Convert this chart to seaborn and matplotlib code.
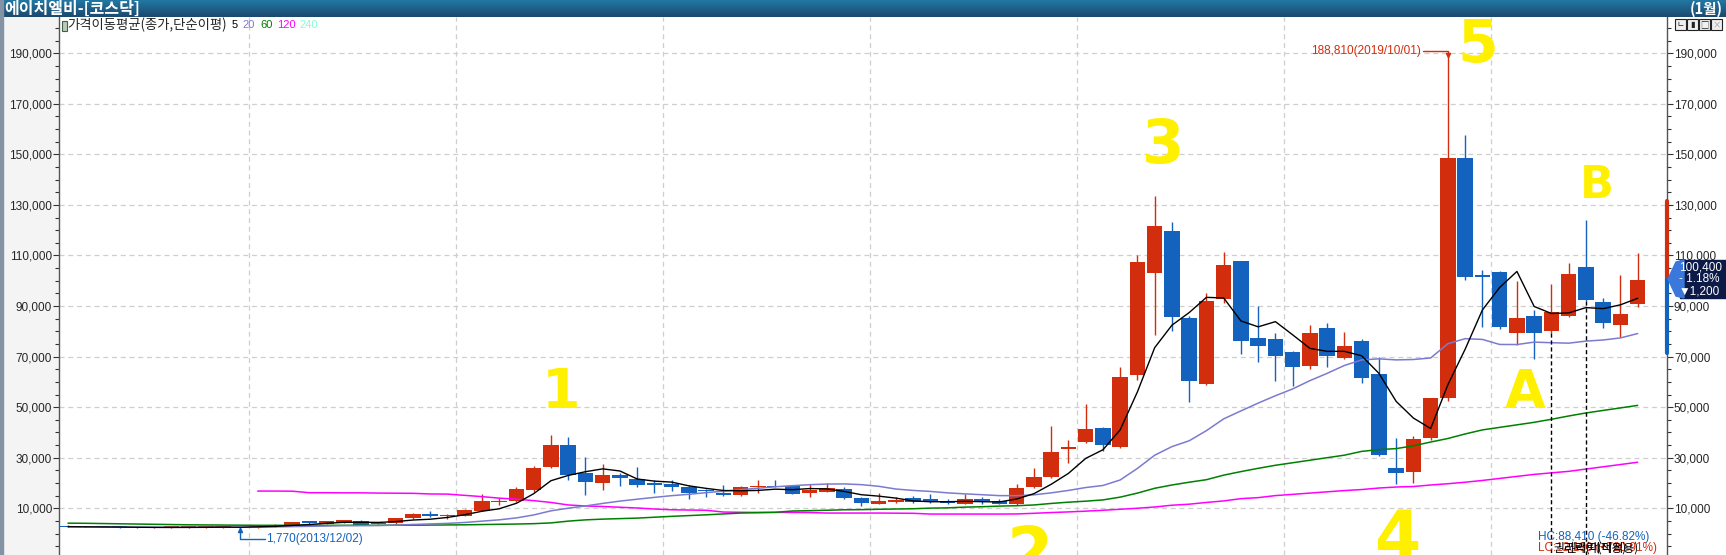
import numpy as np
import pandas as pd
import matplotlib
matplotlib.use("Agg")
import matplotlib.pyplot as plt
from matplotlib.colors import LinearSegmentedColormap
from matplotlib.patches import Rectangle, Polygon
from matplotlib.ticker import MultipleLocator, FuncFormatter
import seaborn as sns

# === DATA: monthly candles 2013/02 .. 2020/09 ===
opens = [3100, 2800, 2650, 2600, 2450, 2250, 2350, 2450, 2400, 2450,
         2600, 2400, 2600, 3100, 4450, 3900, 4200, 5000, 3800, 4000,
         6000, 7900, 6950, 7050, 9100, 12600, 12800, 17300, 26300, 35100,
         24100, 19850, 23300, 21700, 20100, 19700, 18550, 17100, 16150, 15100,
         18250, 18900, 18650, 15900, 16550, 17750, 14150, 11800, 12600, 14150,
         13800, 12850, 11800, 13800, 13000, 11800, 18500, 22450, 33250, 36400,
         41800, 34150, 62900, 103250, 119700, 85300, 59200, 92950, 107850, 77400,
         77000, 71850, 66450, 81400, 69600, 76200, 63100, 25800, 24350, 37600,
         53750, 148450, 102400, 103600, 79150, 85900, 80050, 86050, 105350, 91450,
         82700, 90650]
highs = [3300, 3000, 2800, 2700, 2600, 2550, 2650, 2700, 2700, 2750,
         2700, 3450, 3700, 4600, 5000, 5000, 5400, 5450, 4400, 6300,
         8300, 9100, 7800, 9700, 15500, 13900, 18400, 26800, 39100, 38300,
         30400, 27600, 23950, 26300, 21300, 21300, 19200, 17600, 19300, 19000,
         21300, 21300, 19300, 19700, 20100, 18500, 14300, 16000, 14400, 14700,
         15750, 13600, 15700, 14400, 13600, 19700, 26000, 42650, 37100, 51300,
         42000, 65800, 110100, 133550, 123300, 86100, 95050, 111400, 108000, 90050,
         79350, 72250, 82550, 83350, 79800, 77000, 69750, 37850, 38500, 53700,
         188810, 157600, 104400, 103700, 99800, 88300, 98600, 107100, 124050, 93050,
         102200, 111050]
lows = [2600, 2500, 2400, 2300, 2150, 2150, 2250, 2350, 2300, 2350,
        1770, 2300, 2500, 3000, 3800, 3700, 4000, 3400, 3600, 3800,
        5800, 6600, 5600, 6900, 8900, 11300, 12400, 16400, 25800, 21000,
        15400, 17100, 18650, 18250, 15900, 16950, 13650, 14300, 15000, 15000,
        15900, 18300, 15700, 14400, 16300, 13800, 11000, 11700, 12200, 12200,
        12200, 11800, 11700, 11800, 11700, 11300, 18100, 22000, 28100, 36000,
        32800, 33800, 60800, 78700, 80300, 52200, 58800, 91400, 71050, 68050,
        60150, 58450, 65100, 66050, 69000, 59400, 30500, 19750, 20000, 37000,
        52500, 100150, 81650, 81000, 74750, 68950, 79500, 85500, 91900, 81400,
        77950, 89450]
closes = [2700, 2600, 2500, 2400, 2250, 2400, 2500, 2550, 2550, 2600,
          2250, 3300, 3450, 4400, 4350, 4800, 5200, 3500, 4100, 6000,
          7900, 6800, 7050, 9400, 12900, 12800, 17700, 26000, 35100, 23300,
          20200, 23300, 21800, 19300, 19050, 18250, 15900, 16800, 15100, 18550,
          18900, 18400, 15800, 17300, 17850, 13900, 11900, 13000, 13400, 12300,
          12300, 11900, 13800, 12700, 11800, 18100, 22450, 32350, 34300, 41400,
          35200, 61950, 107450, 121700, 85850, 60150, 92050, 106250, 76200, 74250,
          70400, 65950, 79400, 70400, 74250, 61650, 31100, 23950, 37450, 53600,
          148450, 101350, 101500, 81900, 85250, 79150, 87500, 102600, 92400, 83250,
          86700, 100400]

ma60 = [4100, 4050, 3950, 3850, 3750, 3650, 3550, 3450, 3400, 3350, 3300,
        3250, 3250, 3250, 3250, 3250, 3250, 3250, 3250, 3300, 3300, 3350, 3400,
        3450, 3550, 3650, 3750, 3900, 4200, 4900, 5400,
        5700, 5900, 6100, 6450, 6800, 7100, 7400, 7750, 8100, 8250, 8400,
        8900, 9050, 9200, 9400, 9450, 9600, 9700, 9800, 10050, 10150, 10450, 10600, 10850,
        11000, 11300, 11900, 12400, 12800, 13300, 14400, 16000, 17900, 19200, 20300, 21300,
        23100, 24500, 25800, 27000, 28000, 29000, 30000, 31000, 32500, 33200, 33600, 34700, 36200,
        37600, 39400, 41000, 42000, 43000, 44000, 45200, 46500, 47700, 48700, 49700, 50700]
ma120_start = 11
ma120 = [16800, 16800, 16750, 16150, 16150, 16100, 16100, 16000, 15950, 15900, 15650, 15600,
         15100, 14600, 14000, 13600, 13000, 12300, 11300, 10900, 10700, 10400, 10100,
         9700, 9400, 9300, 9200, 8500, 8400, 8350, 8350, 8350, 8300, 8100, 8100,
         8100, 8100, 8050, 8000, 7700, 7700, 7700, 7700, 7700, 7750, 8000, 8300,
         8550, 8850, 9200, 9600, 10000, 10500, 11200, 11600, 12300, 12900, 13800, 14200,
         15000, 15500, 16000, 16500, 17000, 17400, 18000, 18400, 18600, 19200, 19700, 20300,
         21000, 21800, 22600, 23400, 24000, 24600, 25500, 26400, 27300, 28200]

year_breaks = [10.5, 22.5, 34.5, 46.5, 58.5, 70.5, 82.5]
rights_idx = [86, 88]           # 권리락 marks
peak_idx, peak_val = 80, 188810
low_idx, low_val = 10, 1770
last_price, last_pct, last_chg = 100400, -1.18, 1200
range_top, range_bottom = 131500, 71500

# === DataFrame ===
df = pd.DataFrame({"open": opens, "high": highs, "low": lows, "close": closes})
df["x"] = np.arange(len(df))
df["ma5"] = df["close"].rolling(5, min_periods=1).mean()
df["ma20"] = df["close"].rolling(20, min_periods=1).mean()
df["ma60"] = ma60
df["ma120"] = np.nan
df.loc[ma120_start:, "ma120"] = ma120

RED, BLUE = "#d22d0c", "#1262be"
NUM_FONT = ["Liberation Sans", "DejaVu Sans"]

# === Plotting Setup ===
sns.set_style("white")
plt.rcParams["font.family"] = ["Noto Sans CJK KR", "DejaVu Sans"]

W, H = 1726, 555
fig = plt.figure(figsize=(W / 100, H / 100), dpi=100)
fig.patch.set_facecolor("white")


def fx(px):
    return px / W


def fy(py):
    return 1 - py / H


# left label panel
fig.add_artist(Rectangle((0, 0), fx(59), 1, transform=fig.transFigure, color="#f4f4f4", zorder=0))
fig.add_artist(Rectangle((0, 0), fx(3), 1, transform=fig.transFigure, color="#8493a3", zorder=1))

ax = fig.add_axes([fx(59), 0, 1608 / W, 538 / H])
ax.set_facecolor("white")

# --- candles ---
up = df["close"] >= df["open"]
cols = np.where(up, RED, BLUE)
body_b = df[["open", "close"]].min(axis=1)
body_h = np.maximum((df["close"] - df["open"]).abs(), 450)
ax.vlines(df["x"], df["low"], df["high"], colors=cols, linewidth=1.0, zorder=3)
ax.bar(df["x"], body_h, bottom=body_b, width=0.9, color=cols, linewidth=0, zorder=4)

# --- moving averages ---
sns.lineplot(x=df["x"], y=df["ma120"], color="#ff00ff", linewidth=1.1, ax=ax, zorder=5)
sns.lineplot(x=df["x"], y=df["ma60"], color="#008000", linewidth=1.1, ax=ax, zorder=5)
sns.lineplot(x=df["x"], y=df["ma20"], color="#7b7bcf", linewidth=1.1, ax=ax, zorder=5)
sns.lineplot(x=df["x"], y=df["ma5"], color="black", linewidth=1.0, ax=ax, zorder=6)

# --- rights marks ---
ax.vlines(rights_idx, df.loc[rights_idx, "low"], -9000, colors="black",
          linestyles=(0, (3, 2)), linewidth=1.0, zorder=6)

# --- axes ---
ax.set_xlim(-0.52, 92.70)
ax.set_ylim(-8497, 204362)
ax.set_xlabel("")
ax.set_ylabel("")
ax.set_xticks(year_breaks)
ax.set_yticks(range(10000, 190001, 20000))
ax.yaxis.set_minor_locator(MultipleLocator(5000))
ax.yaxis.set_major_formatter(FuncFormatter(lambda v, p: f"{int(v):,}"))
ax.grid(True, which="major", color="#cfcfcf", linestyle=(0, (4, 3)), linewidth=0.9)
ax.set_axisbelow(True)
ax.tick_params(axis="x", length=0, labelbottom=False)
ax.tick_params(axis="y", which="both", direction="out", left=True, right=True,
               labelleft=True, labelright=True, labelsize=8.5, pad=1,
               color="#333333", labelfontfamily="Liberation Sans")
ax.tick_params(axis="y", which="major", length=4, width=0.8)
ax.tick_params(axis="y", which="minor", length=3, width=0.8)
for side in ["top", "bottom"]:
    ax.spines[side].set_visible(False)
for side in ["left", "right"]:
    ax.spines[side].set_color("#555555")
    ax.spines[side].set_linewidth(1.0)

# price range strip on the right axis
ax.plot([1.0, 1.0], [range_top, last_price], color=RED, linewidth=3,
        transform=ax.get_yaxis_transform(), clip_on=False, zorder=7)
ax.plot([1.0, 1.0], [last_price, range_bottom], color=BLUE, linewidth=3,
        transform=ax.get_yaxis_transform(), clip_on=False, zorder=7)

# --- high / low annotations ---
ax.text(78.45, 191000, f"{peak_val:,}(2019/10/01)", color=RED, fontsize=8.5,
        ha="right", va="center", family=NUM_FONT)
ax.plot([78.55, peak_idx, peak_idx], [191000, 191000, peak_val + 600], color=RED, linewidth=1.0, zorder=7)
ax.plot([peak_idx], [peak_val + 500], marker="v", markersize=3, color=RED, zorder=7)

ax.plot([low_idx, low_idx, 11.4], [low_val - 300, -2200, -2200], color=BLUE, linewidth=1.0, zorder=7)
ax.plot([low_idx], [low_val - 500], marker="^", markersize=3, color=BLUE, zorder=7)
ax.text(11.5, -2200, f"{low_val:,}(2013/12/02)", color=BLUE, fontsize=8.5,
        ha="left", va="center", family=NUM_FONT)

# --- title bar ---
tax = fig.add_axes([0, fy(17), 1, 17 / H])
grad = LinearSegmentedColormap.from_list("bar", ["#2177a2", "#1c4a6f"])
tax.imshow(np.linspace(0, 1, 20).reshape(-1, 1), aspect="auto", cmap=grad, extent=[0, 1, 0, 1])
tax.axis("off")
fig.text(fx(4), fy(8.5), "에이치엘비-[코스닥]", color="white", fontsize=11.5,
         fontweight="bold", va="center", ha="left")
fig.text(fx(1723), fy(8.5), "(1월)", color="white", fontsize=10.5,
         fontweight="bold", va="center", ha="right")

# window buttons
for i, g in enumerate(["ㄴ", "▮", "□", "×"]):
    bx = 1675 + i * 12
    fig.add_artist(Rectangle((fx(bx), fy(30)), fx(11), 11 / H, transform=fig.transFigure,
                             facecolor="#efefef", edgecolor="#222222", linewidth=0.8, zorder=8))
    fig.text(fx(bx + 5.5), fy(24.5), g, fontsize=6, ha="center", va="center",
             color="#222222" if i < 3 else "#999999", zorder=9)

# --- legend line ---
fig.add_artist(Rectangle((fx(62), fy(31)), fx(5), 10 / H, transform=fig.transFigure,
                         facecolor="#b8ccb8", edgecolor="#40604a", linewidth=0.8, zorder=8))
fig.text(fx(67), fy(25), "가격이동평균(종가,단순이평)", fontsize=9.6, va="center", ha="left")
for lab, px, c in [("5", 232, "black"), ("20", 242, "#7b7bcf"), ("60", 260, "#008000"),
                   ("120", 277, "#ff00ff"), ("240", 299, "#7fffd4")]:
    fig.text(fx(px), fy(25), lab, fontsize=8, va="center", ha="left", color=c, family=NUM_FONT)

# --- price tag ---
fig.add_artist(Rectangle((fx(1680), fy(298)), fx(46), 38 / H, transform=fig.transFigure,
                         color="#0c1a48", zorder=8))
fig.add_artist(Polygon([(fx(1668), fy(279)), (fx(1676), fy(262)), (fx(1684), fy(260)),
                        (fx(1684), fy(298)), (fx(1676), fy(296))], closed=True,
                       transform=fig.transFigure, color="#3a78dc", zorder=9))
for txt, py in [(f"{last_price:,}", 267), (f"- {abs(last_pct):.2f}%", 279), (f"▼{last_chg:,}", 291)]:
    fig.text(fx(1679), fy(py), txt, color="white", fontsize=8.5, va="center", ha="left",
             family=NUM_FONT, zorder=10)

# --- bottom-right info ---
fig.text(fx(1538), fy(537), "HC:88,410 (-46.82%)", color=BLUE, fontsize=8.5, va="center",
         ha="left", family=NUM_FONT)
fig.text(fx(1538), fy(548), "LC:12,130 (+720.91%)", color=RED, fontsize=8.5, va="center",
         ha="left", family=NUM_FONT)
for px in [1553, 1565]:
    fig.text(fx(px), fy(548), "권리락(미적용)", color="black", fontsize=8.5, va="center", ha="left")

# --- hand-written yellow marks ---
for lab, px, py, fs in [("1", 561, 393, 40), ("2", 1030, 556, 48), ("3", 1163, 146, 44),
                        ("4", 1397, 540, 48), ("5", 1478, 45, 42), ("A", 1525, 393, 38),
                        ("B", 1597, 186, 32)]:
    fig.text(fx(px), fy(py), lab, color="#fff000", fontsize=fs, fontweight="bold",
             ha="center", va="center", family="DejaVu Sans", zorder=11)

fig.savefig("out.png", dpi=100)
